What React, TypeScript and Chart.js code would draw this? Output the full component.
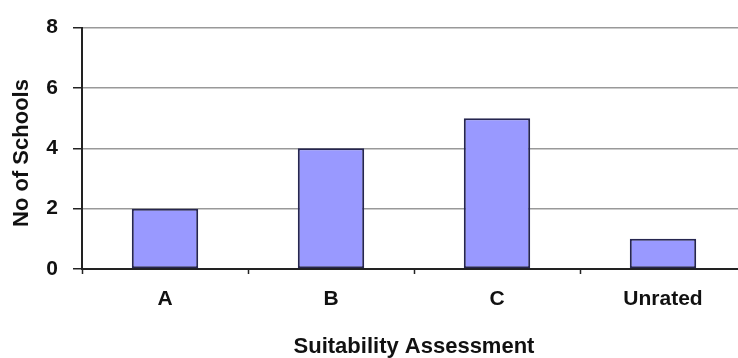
import React, { useEffect, useRef } from "react";
import { Chart, registerables } from "chart.js";

Chart.register(...registerables);

// Data
const categories: string[] = ["A", "B", "C", "Unrated"];
const schoolCounts: number[] = [2, 4, 5, 1];
const yTickValues: number[] = [0, 2, 4, 6, 8];
const xAxisTitle = "Suitability Assessment";
const yAxisTitle = "No of Schools";

const FONT = "'Liberation Sans', Arial, sans-serif";

// Draws the two axis titles at fixed spots around the plot
const axisTitles = {
  id: "axisTitles",
  afterDraw(chart: Chart) {
    const { ctx, chartArea } = chart;
    ctx.save();
    ctx.fillStyle = "#111";
    ctx.font = `bold 22px ${FONT}`;
    ctx.textAlign = "center";
    ctx.textBaseline = "alphabetic";
    ctx.fillText(xAxisTitle, (chartArea.left + chartArea.right) / 2, 353);

    ctx.translate(28, 153);
    ctx.rotate(-Math.PI / 2);
    ctx.fillText(yAxisTitle, 0, 0);
    ctx.restore();
  },
};

export default function App() {
  const canvasRef = useRef<HTMLCanvasElement | null>(null);

  useEffect(() => {
    if (!canvasRef.current) return;
    const chart = new Chart(canvasRef.current, {
      type: "bar",
      data: {
        labels: categories,
        datasets: [
          {
            data: schoolCounts,
            backgroundColor: "#9999ff",
            borderColor: "#262650",
            borderWidth: 2,
            borderSkipped: false,
            categoryPercentage: 1,
            barPercentage: 0.4,
          },
        ],
      },
      options: {
        animation: false,
        responsive: false,
        devicePixelRatio: 1,
        layout: { padding: { top: 25, right: 14, left: 0, bottom: 0 } },
        plugins: {
          legend: { display: false },
          tooltip: { enabled: false },
          title: { display: false },
        },
        scales: {
          x: {
            offset: true,
            grid: {
              offset: true,
              drawOnChartArea: false,
              drawTicks: true,
              tickLength: 5,
              tickColor: "#222",
              tickWidth: 1.5,
            },
            border: { color: "#222", width: 2 },
            ticks: {
              color: "#111",
              font: { family: FONT, size: 21, weight: "bold" },
              padding: 13,
            },
            afterFit: (scale: any) => {
              scale.height = 89;
            },
          },
          y: {
            min: 0,
            max: 8,
            afterBuildTicks: (scale: any) => {
              scale.ticks = yTickValues.map((v) => ({ value: v }));
            },
            grid: {
              color: "#999",
              lineWidth: 1.5,
              drawTicks: true,
              tickLength: 9,
              tickColor: "#222",
              tickWidth: 1.5,
            },
            border: { color: "#222", width: 2 },
            ticks: {
              color: "#111",
              font: { family: FONT, size: 21, weight: "bold" },
              padding: 15,
            },
            afterFit: (scale: any) => {
              scale.width = 82;
            },
          },
        },
      },
      plugins: [axisTitles],
    });
    return () => chart.destroy();
  }, []);

  return (
    <div
      style={{
        position: "absolute",
        left: 0,
        top: 0,
        width: 738,
        height: 358,
        overflow: "hidden",
        background: "#fff",
      }}
    >
      <canvas ref={canvasRef} width={760} height={358} style={{ display: "block" }} />
    </div>
  );
}
